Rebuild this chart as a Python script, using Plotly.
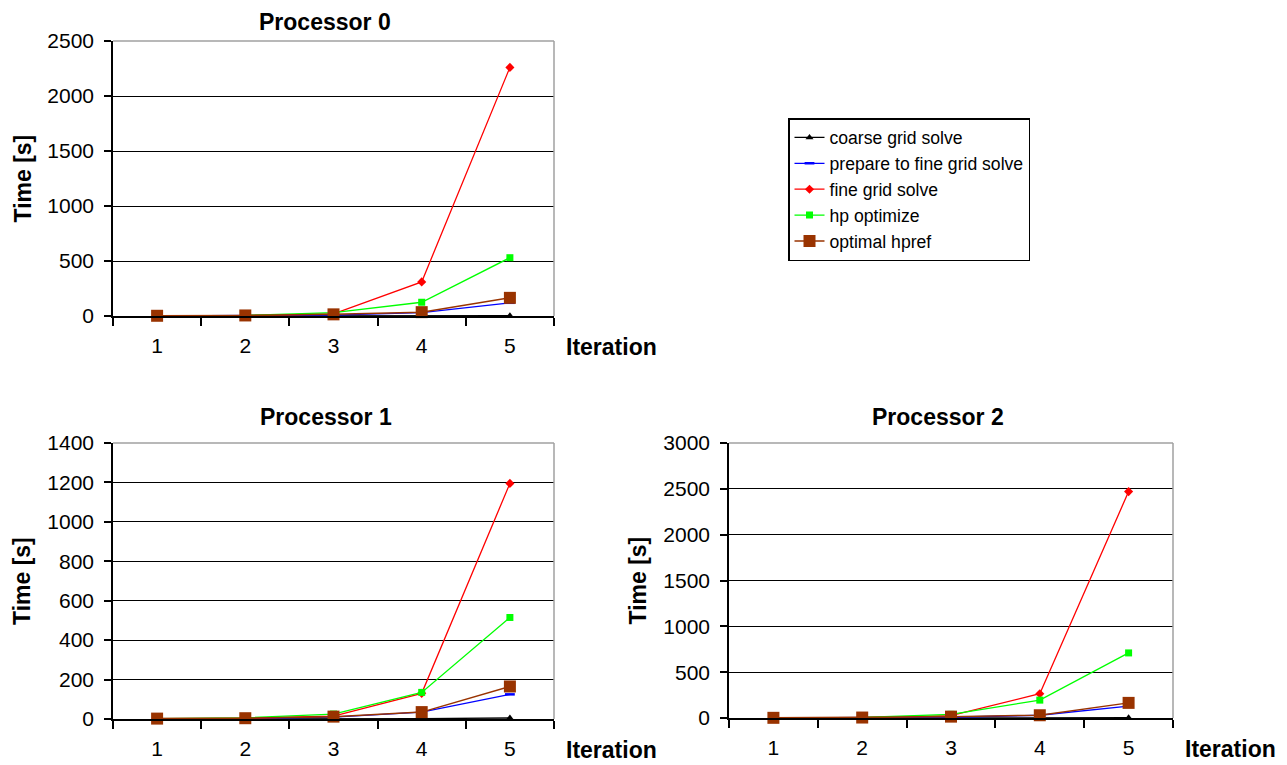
import plotly.graph_objects as go

W, H = 1287, 765
OFF = 8  # page body margin in the browser

iterations = [1, 2, 3, 4, 5]
series_names = ["coarse grid solve", "prepare to fine grid solve", "fine grid solve",
                "hp optimize", "optimal hpref"]

# Processor 0
p0_coarse = [0, 0, 1, 2, 3]
p0_prepare = [1, 2, 8, 30, 120]
p0_fine = [1, 3, 20, 310, 2260]
p0_hp = [2, 6, 30, 125, 530]
p0_hpref = [2, 5, 15, 35, 165]

# Processor 1
p1_coarse = [0, 0, 1, 2, 5]
p1_prepare = [1, 2, 10, 35, 125]
p1_fine = [2, 4, 15, 130, 1195]
p1_hp = [2, 6, 25, 135, 515]
p1_hpref = [2, 4, 12, 35, 165]

# Processor 2
p2_coarse = [0, 0, 1, 2, 3]
p2_prepare = [1, 2, 8, 30, 130]
p2_fine = [1, 3, 25, 265, 2470]
p2_hp = [2, 6, 40, 195, 710]
p2_hpref = [2, 5, 15, 30, 165]

y_ranges = [[0, 2500], [0, 1400], [0, 3000]]
y_dticks = [500, 200, 500]
titles = ["Processor 0", "Processor 1", "Processor 2"]

styles = [
    dict(color="#000000", symbol="triangle-up", size=7, lw=1.3),
    dict(color="#0000FF", symbol="line-ew", size=7, lw=1.3),
    dict(color="#FF0000", symbol="diamond", size=7, lw=1.3),
    dict(color="#00FF00", symbol="square", size=7, lw=1.3),
    dict(color="#993300", symbol="square", size=12, lw=1.5),
]

data = [
    [p0_coarse, p0_prepare, p0_fine, p0_hp, p0_hpref],
    [p1_coarse, p1_prepare, p1_fine, p1_hp, p1_hpref],
    [p2_coarse, p2_prepare, p2_fine, p2_hp, p2_hpref],
]

# pixel boxes (reference screen coords): left, right, top, bottom
boxes = [(113, 554, 41, 316), (113, 554, 443, 719), (729, 1173, 443, 718)]
title_pos = [(325, None), (326, 417), (938, 417)]
ytitle_x = [22, 22, 637]

FONT = "Liberation Sans, Arial, sans-serif"


def px(x):
    return (x - OFF) / W


def py(y):
    return 1 - (y - OFF) / H


fig = go.Figure()

for i, (series, box) in enumerate(zip(data, boxes)):
    xa = "x" if i == 0 else f"x{i+1}"
    ya = "y" if i == 0 else f"y{i+1}"
    for j, (name, vals, st) in enumerate(zip(series_names, series, styles)):
        mk = dict(symbol=st["symbol"], size=st["size"], color=st["color"])
        if st["symbol"] == "line-ew":
            mk["line"] = dict(color=st["color"], width=2.5)
        fig.add_trace(go.Scatter(
            x=iterations, y=vals, name=name, mode="lines+markers",
            line=dict(color=st["color"], width=st["lw"]),
            marker=mk, xaxis=xa, yaxis=ya, showlegend=(i == 0),
            cliponaxis=False,
        ))
    l, r, t, b = box
    xkey = "xaxis" if i == 0 else f"xaxis{i+1}"
    ykey = "yaxis" if i == 0 else f"yaxis{i+1}"
    fig.layout[xkey] = dict(
        domain=[px(l), px(r)], anchor=ya, range=[0.5, 5.5],
        tickvals=iterations, ticktext=[str(v) for v in iterations],
        ticks="", showgrid=False, zeroline=False, automargin=False,
        showline=True, linecolor="#000000", linewidth=1.5,
        tickfont=dict(family=FONT, size=21, color="#000000"),
        ticklabelstandoff=10,
        minor=dict(tickvals=[0.5, 1.5, 2.5, 3.5, 4.5, 5.5], ticks="outside",
                   ticklen=8, tickcolor="#000000", tickwidth=1.5, showgrid=False),
        fixedrange=True,
    )
    fig.layout[ykey] = dict(
        domain=[py(b), py(t)], anchor=xa, range=y_ranges[i],
        dtick=y_dticks[i], ticks="outside", ticklen=7, tickcolor="#000000",
        tickwidth=1.5, showline=True, linecolor="#000000", linewidth=1.5,
        showgrid=True, gridcolor="#000000", gridwidth=1, zeroline=False,
        automargin=False, ticklabelstandoff=6,
        tickfont=dict(family=FONT, size=21, color="#000000"),
        fixedrange=True,
    )
    # plot-area frame: gray top and right edges
    fig.add_shape(type="line", xref=f"{xa} domain", yref=f"{ya} domain",
                  x0=0, x1=1, y0=1, y1=1, line=dict(color="#a0a0a0", width=1.5),
                  layer="above")
    fig.add_shape(type="line", xref=f"{xa} domain", yref=f"{ya} domain",
                  x0=1, x1=1, y0=0, y1=1, line=dict(color="#a0a0a0", width=1.5),
                  layer="above")
    tx, ty = title_pos[i]
    if ty is None:
        fig.add_annotation(text=f"<b>{titles[i]}</b>", xref="paper", yref="paper",
                           x=px(tx), y=1, xanchor="center", yanchor="top", borderpad=0,
                           showarrow=False, font=dict(family=FONT, size=23, color="#000000"))
    else:
        fig.add_annotation(text=f"<b>{titles[i]}</b>", xref="paper", yref="paper",
                           x=px(tx), y=py(ty), xanchor="center", yanchor="middle",
                           showarrow=False, font=dict(family=FONT, size=23, color="#000000"))
    fig.add_annotation(text="<b>Iteration</b>", xref="paper", yref="paper",
                       x=px(r + 10), y=py(b + 31), xanchor="left", yanchor="middle",
                       showarrow=False, font=dict(family=FONT, size=23, color="#000000"))
    fig.add_annotation(text="<b>Time [s]</b>", xref="paper", yref="paper",
                       x=px(ytitle_x[i]), y=py((t + b) / 2), textangle=-90,
                       xanchor="center", yanchor="middle",
                       showarrow=False, font=dict(family=FONT, size=23, color="#000000"))

fig.update_layout(
    width=W, height=H, autosize=False,
    margin=dict(l=0, r=0, t=0, b=0),
    paper_bgcolor="#FFFFFF", plot_bgcolor="#FFFFFF",
    legend=dict(x=px(788), y=py(118), xanchor="left", yanchor="top",
                bordercolor="#000000", borderwidth=1.5, bgcolor="#FFFFFF",
                font=dict(family=FONT, size=17.6, color="#000000"),
                itemwidth=30, tracegroupgap=0),
    showlegend=True,
)

fig.write_html("out.html")
